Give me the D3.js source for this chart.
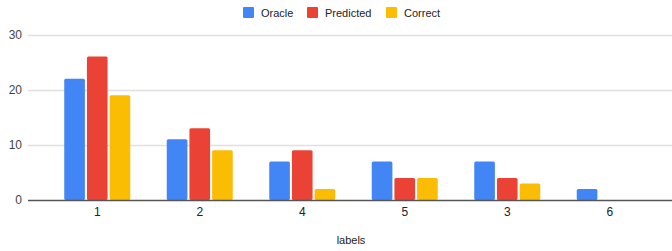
<!DOCTYPE html>
<html>
<head>
<meta charset="utf-8">
<script src="https://d3js.org/d3.v7.min.js"></script>
<style>
  body { margin: 0; background: #fff; }
  text { font-family: "Liberation Sans", Arial, sans-serif; }
</style>
</head>
<body>
<div class="chart"></div>
<script>
// chart data
var categories = ['1', '2', '4', '5', '3', '6'];
var seriesNames = ['Oracle', 'Predicted', 'Correct'];
var oracle = [22, 11, 7, 7, 7, 2];
var predicted = [26, 13, 9, 4, 4, 0];
var correct = [19, 9, 2, 4, 3, 0];
var yTicks = [0, 10, 20, 30];
var colors = ['#4285f4', '#ea4335', '#fbbc04'];

var width = 672, height = 251;
var svg = d3.select('.chart').append('svg').attr('width', width).attr('height', height);

var gridLeft = 28, gridRight = 672;
var x = d3.scaleBand().domain(categories).range([46, 661]);
var xs = d3.scaleBand().domain(seriesNames).range([0, 66]).paddingInner(0.09);
var y = d3.scaleLinear().domain([0, 30]).range([200, 34.5]);

// gridlines
svg.selectAll('.grid').data(yTicks.filter(function(d) { return d > 0; }))
  .join('line')
  .attr('x1', gridLeft).attr('x2', gridRight)
  .attr('y1', function(d) { return Math.round(y(d)) + 0.5; })
  .attr('y2', function(d) { return Math.round(y(d)) + 0.5; })
  .attr('stroke', '#e0e0e0').attr('stroke-width', 1.5);

// y labels
svg.selectAll('.ylab').data(yTicks)
  .join('text')
  .attr('x', 22).attr('y', function(d) { return y(d) + 4; })
  .attr('text-anchor', 'end')
  .attr('font-size', 12).attr('fill', '#444')
  .text(function(d) { return d; });

var rows = categories.map(function(c, i) {
  return [oracle[i], predicted[i], correct[i]].map(function(v, j) {
    return {cat: c, name: seriesNames[j], value: v, color: colors[j]};
  });
});

var groups = svg.selectAll('.grp').data(rows).join('g')
  .attr('transform', function(d, i) { return 'translate(' + (x(categories[i]) + x.bandwidth() / 2 - 33) + ',0)'; });

groups.selectAll('rect').data(function(d) { return d.filter(function(b) { return b.value > 0; }); })
  .join('rect')
  .attr('x', function(d) { return xs(d.name); })
  .attr('width', xs.bandwidth())
  .attr('y', function(d) { return y(d.value); })
  .attr('height', function(d) { return y(0) - y(d.value); })
  .attr('rx', 1.5)
  .attr('fill', function(d) { return d.color; });

// baseline
svg.append('line')
  .attr('x1', gridLeft).attr('x2', gridRight)
  .attr('y1', y(0) + 0.5).attr('y2', y(0) + 0.5)
  .attr('stroke', '#555').attr('stroke-width', 1.5);

// x labels
svg.selectAll('.xlab').data(categories)
  .join('text')
  .attr('x', function(d) { return x(d) + x.bandwidth() / 2; })
  .attr('y', 216)
  .attr('text-anchor', 'middle')
  .attr('font-size', 12).attr('fill', '#222')
  .text(function(d) { return d; });

svg.append('text')
  .attr('x', 351).attr('y', 244)
  .attr('text-anchor', 'middle')
  .attr('font-size', 11).attr('fill', '#222')
  .text('labels');

// legend
var legendX = [243, 307, 386];
var legend = svg.selectAll('.leg').data(seriesNames).join('g')
  .attr('transform', function(d, i) { return 'translate(' + legendX[i] + ',7)'; });
legend.append('rect')
  .attr('width', 11).attr('height', 11).attr('rx', 1)
  .attr('fill', function(d, i) { return colors[i]; });
legend.append('text')
  .attr('x', 18).attr('y', 9.5)
  .attr('font-size', 11).attr('fill', '#222')
  .text(function(d) { return d; });
</script>
</body>
</html>
